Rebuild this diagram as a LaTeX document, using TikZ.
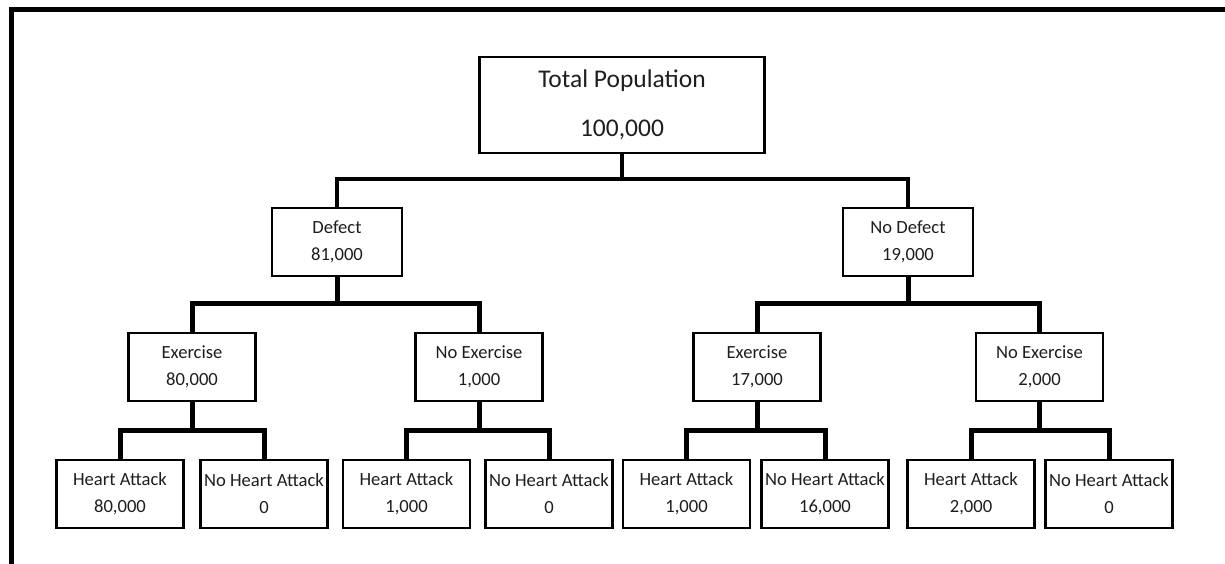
\documentclass[tikz,border=0pt]{standalone}
\usepackage{fontspec}
\setmainfont{Carlito}
\definecolor{txt}{HTML}{1E1E1E}
\begin{document}
\begin{tikzpicture}[x=1pt,y=-1pt,
  box/.style={draw=black,line width=2.6pt,rectangle,inner sep=0pt,align=center,text=txt,
     font=\fontsize{18.6}{27}\selectfont,minimum height=68pt},
  bigbox/.style={box,font=\fontsize{25.5}{49}\selectfont,minimum width=285pt,minimum height=96pt},
  lvtwo/.style={box,minimum width=130pt},
  lvthree/.style={box,minimum width=127pt},
  leaf/.style={box,minimum width=127pt},
  thin/.style={line width=3.4pt},
  thick/.style={line width=5pt},
  frame/.style={line width=5pt,line join=miter}]
\useasboundingbox (0,0) rectangle (1225,564);
\draw[frame] (11.5,570) -- (11.5,9.5) -- (1232,9.5);

\node[bigbox] (tp) at (622,105) {Total Population\\100,000};

\node[lvtwo] (def) at (337,242) {Defect\\81,000};
\node[lvtwo] (nodef) at (908,242) {No Defect\\19,000};

\node[lvthree] (exL) at (192,367) {Exercise\\80,000};
\node[lvthree] (nexL) at (479,367) {No Exercise\\1,000};
\node[lvthree] (exR) at (757,367) {Exercise\\17,000};
\node[lvthree] (nexR) at (1039.5,367) {No Exercise\\2,000};

\node[leaf] (ha1) at (120,494) {Heart Attack\\80,000};
\node[leaf] (nha1) at (264,494) {No Heart Attack\\0};
\node[leaf] (ha2) at (406.5,494) {Heart Attack\\1,000};
\node[leaf] (nha2) at (549,494) {No Heart Attack\\0};
\node[leaf] (ha3) at (686.5,494) {Heart Attack\\1,000};
\node[leaf] (nha3) at (825,494) {No Heart Attack\\16,000};
\node[leaf] (ha4) at (971,494) {Heart Attack\\2,000};
\node[leaf] (nha4) at (1109,494) {No Heart Attack\\0};

\coordinate (h1) at (0,179);
\coordinate (h2) at (0,303.5);
\coordinate (h3) at (0,430);

% level 1
\draw[thin] (tp.south) -- (tp.south |- h1);
\draw[thin] (def.north) -- (def.north |- h1) -| (nodef.north);
% level 2
\draw[thick] (def.south) -- (def.south |- h2);
\draw[thick] (exL.north) -- (exL.north |- h2) -| (nexL.north);
\draw[thick] (nodef.south) -- (nodef.south |- h2);
\draw[thick] (exR.north) -- (exR.north |- h2) -| (nexR.north);
% level 3
\draw[thick] (exL.south) -- (exL.south |- h3);
\draw[thick] (ha1.north) -- (ha1.north |- h3) -| (nha1.north);
\draw[thick] (nexL.south) -- (nexL.south |- h3);
\draw[thick] (ha2.north) -- (ha2.north |- h3) -| (nha2.north);
\draw[thick] (exR.south) -- (exR.south |- h3);
\draw[thick] (ha3.north) -- (ha3.north |- h3) -| (nha3.north);
\draw[thick] (nexR.south) -- (nexR.south |- h3);
\draw[thick] (ha4.north) -- (ha4.north |- h3) -| (nha4.north);
\end{tikzpicture}
\end{document}
